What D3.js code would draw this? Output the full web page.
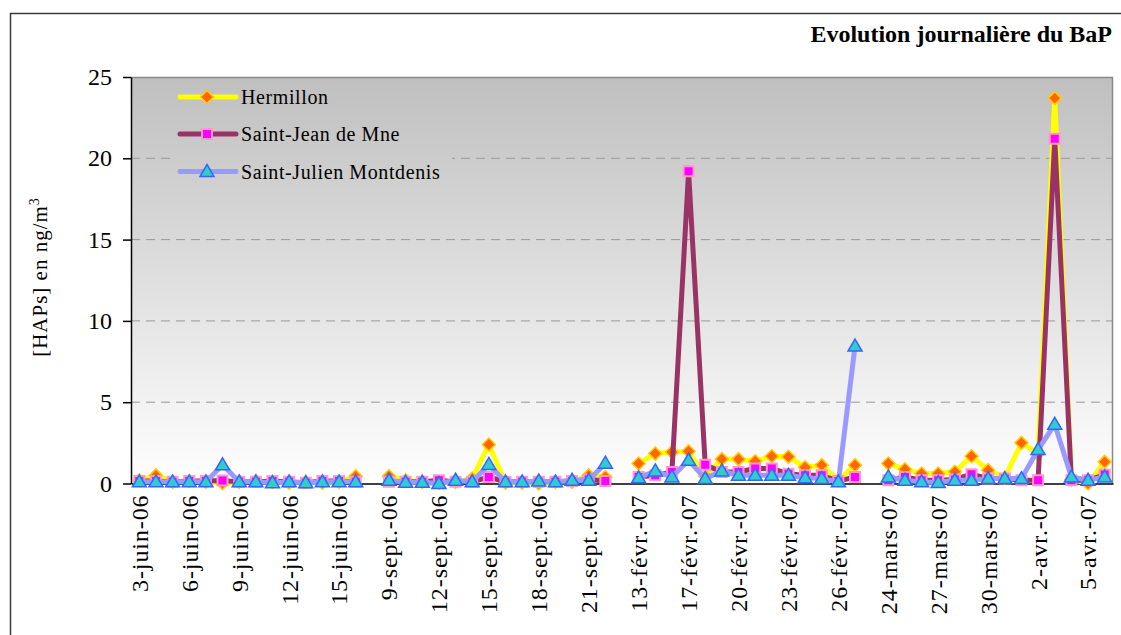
<!DOCTYPE html>
<html>
<head>
<meta charset="utf-8">
<script src="https://cdn.jsdelivr.net/npm/d3@7"></script>
<style>
  html, body { margin: 0; padding: 0; background: #fff; }
  svg { display: block; }
  text { font-family: "Liberation Serif", "Times New Roman", serif; fill: #000; }
</style>
</head>
<body>
<svg id="chart" width="1121" height="635"></svg>
<script>
// ---------- DATA ----------
const dates = [
  "3-juin-06","4-juin-06","5-juin-06","6-juin-06","7-juin-06","8-juin-06","9-juin-06","10-juin-06","11-juin-06","12-juin-06","13-juin-06","14-juin-06","15-juin-06","16-juin-06","17-juin-06",
  "9-sept.-06","10-sept.-06","11-sept.-06","12-sept.-06","13-sept.-06","14-sept.-06","15-sept.-06","16-sept.-06","17-sept.-06","18-sept.-06","19-sept.-06","20-sept.-06","21-sept.-06","22-sept.-06","23-sept.-06",
  "13-févr.-07","14-févr.-07","16-févr.-07","17-févr.-07","18-févr.-07","19-févr.-07","20-févr.-07","21-févr.-07","22-févr.-07","23-févr.-07","24-févr.-07","25-févr.-07","26-févr.-07","27-févr.-07","28-févr.-07",
  "24-mars-07","25-mars-07","26-mars-07","27-mars-07","28-mars-07","29-mars-07","30-mars-07","31-mars-07","1-avr.-07","2-avr.-07","3-avr.-07","4-avr.-07","5-avr.-07","6-avr.-07"
];
const seriesNames = ["Hermillon", "Saint-Jean de Mne", "Saint-Julien Montdenis"];
const hermillon = [
  0.2,0.5,0.1,0.15,0.1,0.02,0.1,0.15,0.1,0.05,0.1,0.05,0.1,0.45, null,
  0.45,0.2,0.1,0.05,0.1,0.3,2.4,0.05,0.05,0.0,0.1,0.1,0.5,0.4, null,
  1.23,1.84,1.94,1.98,0.45,1.5,1.5,1.37,1.68,1.64,1.0,1.13,0.2,1.13, null,
  1.23,0.88,0.61,0.61,0.72,1.68,0.82,0.37,2.5,1.84,23.7,0.25,0.0,1.33
];
const saintJean = [
  0.15,0.15,0.1,0.15,0.15,0.18,0.1,0.1,0.15,0.1,0.05,0.15,0.15,0.1, null,
  0.1,0.1,0.1,0.2,0.1,0.1,0.4,0.1,0.1,0.1,0.1,0.15,0.25,0.15, null,
  0.4,0.5,0.71,19.2,1.15,0.7,0.71,0.92,0.92,0.6,0.5,0.5,0.15,0.4, null,
  0.2,0.4,0.2,0.2,0.25,0.57,0.3,0.3,0.2,0.2,21.2,0.2,0.2,0.55
];
const saintJulien = [
  0.1,0.1,0.1,0.1,0.1,1.15,0.1,0.1,0.05,0.1,0.05,0.1,0.1,0.1, null,
  0.2,0.07,0.07,0.0,0.2,0.1,1.17,0.1,0.1,0.15,0.1,0.2,0.2,1.25, null,
  0.35,0.77,0.4,1.43,0.3,0.77,0.5,0.5,0.5,0.5,0.35,0.3,0.1,8.45, null,
  0.4,0.2,0.1,0.06,0.2,0.2,0.3,0.3,0.3,2.09,3.64,0.4,0.2,0.4
];
const yTicks = [0, 5, 10, 15, 20, 25];
const title = "Evolution journalière du BaP";

// ---------- LAYOUT ----------
const svg = d3.select("#chart");
const L = 131, R = 1113, T = 77, B = 483.5;

const x = d3.scaleBand().domain(d3.range(dates.length)).range([L, R]).padding(0);
const cx = i => x(i) + x.bandwidth() / 2;
const y = d3.scaleLinear().domain([0, 25]).range([B, T]);

const defs = svg.append("defs");
const grad = defs.append("linearGradient").attr("id", "bg")
  .attr("gradientUnits", "userSpaceOnUse")
  .attr("x1", 0).attr("y1", T).attr("x2", 0).attr("y2", B);
grad.append("stop").attr("offset", "0%").attr("stop-color", "#bfbfbf");
grad.append("stop").attr("offset", "100%").attr("stop-color", "#ffffff");

// outer frame
svg.append("rect").attr("x", 10.5).attr("y", 13.5).attr("width", 1120).attr("height", 700)
  .attr("fill", "#fff").attr("stroke", "#3a3a3a").attr("stroke-width", 1.5);

// plot background
svg.append("rect").attr("x", L).attr("y", T).attr("width", R - L).attr("height", B - T)
  .attr("fill", "url(#bg)");

// gridlines
svg.append("g").selectAll("line").data(yTicks.filter(t => t > 0 && t < 25)).join("line")
  .attr("x1", L).attr("x2", R).attr("y1", d => y(d)).attr("y2", d => y(d))
  .attr("stroke", "#999").attr("stroke-width", 1).attr("stroke-dasharray", "9,6");

// plot border top/right
svg.append("path").attr("d", `M${L},${T + 0.5}H${R - 0.5}V${B}`)
  .attr("fill", "none").attr("stroke", "#888").attr("stroke-width", 1.5);

// title
svg.append("text").attr("x", 1112).attr("y", 42).attr("text-anchor", "end")
  .attr("font-size", 24).attr("font-weight", "bold").text(title);

// y axis
const yAxis = svg.append("g").attr("transform", `translate(${L},0)`)
  .call(d3.axisLeft(y).tickValues(yTicks).tickSize(8).tickSizeOuter(0).tickPadding(11));
yAxis.selectAll("text").attr("font-size", 24).attr("font-family", "Liberation Serif").attr("fill", "#000");
yAxis.selectAll("line, path").attr("stroke", "#000").attr("stroke-width", 1.5);

// x axis
const xAxis = svg.append("g").attr("transform", `translate(0,${B})`)
  .call(d3.axisBottom(x).tickValues(d3.range(dates.length).filter(i => i % 3 === 0))
    .tickFormat(i => dates[i]).tickSize(0).tickSizeOuter(0));
xAxis.selectAll("path").attr("stroke", "#000").attr("stroke-width", 1.5);
xAxis.selectAll("text")
  .attr("font-size", 24).attr("font-family", "Liberation Serif").attr("fill", "#000")
  .attr("letter-spacing", "0.9px")
  .attr("text-anchor", "end")
  .attr("transform", "rotate(-90)")
  .attr("x", -11).attr("y", 0).attr("dy", "0.35em");

// y axis title
const yt = svg.append("text").attr("transform", "translate(47,277) rotate(-90)")
  .attr("text-anchor", "middle").attr("font-size", 21).attr("letter-spacing", "1px");
yt.append("tspan").text("[HAPs] en ng/m");
yt.append("tspan").attr("font-size", 14).attr("dy", "-8").text("3");

// series
const series = [
  { name: seriesNames[0], values: hermillon, line: "#ffff00", shape: "diamond", fill: "#ff6600", stroke: "#ffcc00" },
  { name: seriesNames[1], values: saintJean, line: "#993366", shape: "square", fill: "#ff00ff", stroke: "#ff99cc" },
  { name: seriesNames[2], values: saintJulien, line: "#9999ff", shape: "triangle", fill: "#33cccc", stroke: "#3366ff" }
];

function markerPath(shape) {
  if (shape === "diamond") return "M0,-6.5L6.5,0L0,6.5L-6.5,0Z";
  if (shape === "square") return "M-5,-5H5V5H-5Z";
  return "M0,-7L7,5H-7Z";
}

const lineGen = d3.line().defined(d => d.v != null).x(d => cx(d.i)).y(d => y(d.v));

series.forEach(s => {
  const pts = s.values.map((v, i) => ({ i, v }));
  const g = svg.append("g");
  g.append("path").datum(pts).attr("d", lineGen)
    .attr("fill", "none").attr("stroke", s.line).attr("stroke-width", 5)
    .attr("stroke-linejoin", "round");
  g.selectAll("path.m").data(pts.filter(d => d.v != null)).join("path").attr("class", "m")
    .attr("transform", d => `translate(${cx(d.i)},${y(d.v)})`)
    .attr("d", markerPath(s.shape))
    .attr("fill", s.fill).attr("stroke", s.stroke).attr("stroke-width", s.shape === "square" ? 2 : 1.5);
});

// legend
const lg = svg.append("g");
lg.append("rect").attr("x", 170).attr("y", 80).attr("width", 282).attr("height", 110).attr("fill", "url(#bg)");
const rowsY = [97, 134, 171.5];
series.forEach((s, k) => {
  const yy = rowsY[k];
  lg.append("line").attr("x1", 180).attr("x2", 236).attr("y1", yy).attr("y2", yy)
    .attr("stroke", s.line).attr("stroke-width", 5).attr("stroke-linecap", "round");
  lg.append("path").attr("transform", `translate(207,${yy})`).attr("d", markerPath(s.shape))
    .attr("fill", s.fill).attr("stroke", s.stroke).attr("stroke-width", s.shape === "square" ? 2 : 1.5);
  lg.append("text").attr("x", 241).attr("y", yy).attr("dy", "0.35em")
    .attr("font-size", 20).attr("letter-spacing", "0.6px").text(s.name);
});
</script>
</body>
</html>
